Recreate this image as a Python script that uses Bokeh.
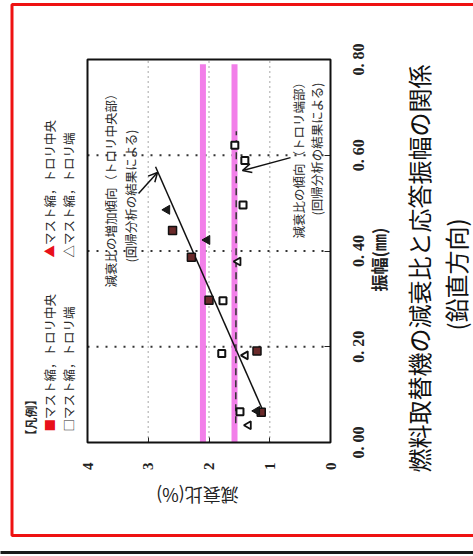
import math
from bokeh.plotting import figure
from bokeh.models import (Range1d, FixedTicker, CustomJSTickFormatter, Label,
                          Arrow, OpenHead, BoxAnnotation, LinearAxis)
from bokeh.core.properties import value
from bokeh.embed import file_html
from bokeh.resources import INLINE

# ---- data: damping ratio (%) vs response amplitude (mm) ----
sq_fill_damp = [2.60, 2.29, 2.00, 1.21, 1.14]
sq_fill_amp = [0.443, 0.387, 0.297, 0.191, 0.063]
tri_fill_damp = [2.69, 2.03, 1.21]
tri_fill_amp = [0.486, 0.423, 0.066]
sq_open_damp = [1.575, 1.41, 1.44, 1.77, 1.79, 1.49]
sq_open_amp = [0.621, 0.589, 0.496, 0.296, 0.186, 0.064]
tri_open_damp = [1.52, 1.40, 1.35]
tri_open_amp = [0.378, 0.182, 0.036]

reg_center_damp = [1.09, 2.88]
reg_center_amp = [0.06, 0.576]
reg_end_damp = [1.56, 1.55]
reg_end_amp = [0.04, 0.65]
limit_damp = [2.10, 1.58]
limit_amp = [0.0, 0.79]

arrow_center = [3.16, 0.520, 2.848, 0.564]
arrow_end = [0.658, 0.595, 1.449, 0.568]

damp_ticks = [0, 1, 2, 3, 4]
amp_ticks = [0.0, 0.2, 0.4, 0.6, 0.8]
amp_tick_labels = ["0. 00", "0. 20", "0. 40", "0. 60", "0. 80"]

# page geometry: the whole canvas is the frame, the chart box sits inside it
W, H = 473, 556
FL, FR, FT, FB = 87, 330, 59, 442
X0, X1 = 4.0, 0.0
Y0, Y1 = 0.0, 0.8


def dx(px):
    return X0 + (px - FL) * (X1 - X0) / (FR - FL)


def dy(py):
    return Y0 + (FB - py) * (Y1 - Y0) / (FB - FT)


p = figure(frame_width=W, frame_height=H,
           x_range=Range1d(dx(0), dx(W)), y_range=Range1d(dy(H), dy(0)),
           x_axis_type=None, y_axis_type=None,
           output_backend="svg", toolbar_location=None,
           min_border=0, min_border_left=0, min_border_right=0,
           min_border_top=0, min_border_bottom=0)
p.background_fill_color = "white"
p.border_fill_color = "white"
p.outline_line_color = None
p.xgrid.visible = False
p.ygrid.visible = False

# damping-ratio axis along the bottom of the chart box
xa = LinearAxis(ticker=FixedTicker(ticks=damp_ticks), fixed_location=Y0, bounds=(0, 4))
xa.major_label_orientation = math.pi / 2
xa.major_tick_in = 5
xa.major_tick_out = 0
xa.major_tick_line_color = "#222222"
xa.minor_tick_line_color = None
xa.axis_line_color = None
xa.major_label_standoff = 20
xa.major_label_text_font = "Liberation Serif"
xa.major_label_text_font_style = "bold"
xa.major_label_text_font_size = "15px"
xa.major_label_text_color = "#222222"
p.add_layout(xa, "below")

# amplitude axis along the right of the chart box (ticks; labels drawn centred below)
ya = LinearAxis(ticker=FixedTicker(ticks=amp_ticks), fixed_location=X1, bounds=(0, 0.8))
ya.formatter = CustomJSTickFormatter(code="return '';")
ya.major_tick_in = 6
ya.major_tick_out = 0
ya.major_tick_line_color = "#222222"
ya.minor_tick_line_color = None
ya.axis_line_color = None
p.add_layout(ya, "right")

# centred, upward-reading amplitude tick labels
p.text(x=[dx(358)] * len(amp_ticks), y=amp_ticks, text=amp_tick_labels,
       angle=math.pi / 2, text_align="center", text_baseline="middle",
       text_font=value("Liberation Serif"), text_font_style="bold",
       text_font_size="16px", text_color="#222222")

# dotted grid inside the chart box
inner_d = damp_ticks[1:-1]
inner_a = amp_ticks[1:-1]
p.segment(x0=inner_d, x1=inner_d, y0=[Y0] * len(inner_d), y1=[Y1] * len(inner_d),
          line_color="#8a8a8a", line_dash="1 4", line_width=1.5)
p.segment(x0=[X0] * len(inner_a), x1=[X1] * len(inner_a), y0=inner_a, y1=inner_a,
          line_color="#333333", line_dash="2 7", line_width=2)

# magenta reference bands
for d in limit_damp:
    p.line([d, d], limit_amp, line_color="#f27fe9", line_width=6)

# regression lines
p.line(reg_center_damp, reg_center_amp, line_color="#111111", line_width=1.5)
p.line(reg_end_damp, reg_end_amp, line_color="#333333", line_width=1.5, line_dash="7 5")

# points
p.scatter(sq_open_damp, sq_open_amp, marker="square", size=7, fill_color="white",
          line_color="#111111", line_width=2)
p.scatter(tri_open_damp, tri_open_amp, marker="triangle", size=8, angle=math.pi / 2,
          fill_color="white", line_color="#111111", line_width=1.8)
p.scatter(sq_fill_damp, sq_fill_amp, marker="square", size=8, fill_color="#6a2a2a",
          line_color="#111111", line_width=1.5)
p.scatter(tri_fill_damp, tri_fill_amp, marker="triangle", size=9, angle=math.pi / 2,
          fill_color="#1a1a1a", line_color="#111111", line_width=1)

# chart box outline
p.add_layout(BoxAnnotation(left=X0, right=X1, bottom=Y0, top=Y1, fill_alpha=0,
                           line_color="#111111", line_alpha=1, line_width=2))

# arrows
for a in (arrow_center, arrow_end):
    p.add_layout(Arrow(end=OpenHead(size=9, line_width=1.5, line_color="#111111"),
                       x_start=a[0], y_start=a[1], x_end=a[2], y_end=a[3],
                       line_width=1.5, line_color="#111111"))

JP = "Noto Sans CJK JP"


def lab(px, py, text, size, angle=math.pi / 2, align="left", color="#2a2a2a",
        font=JP, style="normal"):
    p.add_layout(Label(x=dx(px), y=dy(py), text=text, angle=angle, text_align=align,
                       text_baseline="middle", text_font_size=f"{size}px",
                       text_color=color, text_font=font, text_font_style=style))


# legend
lab(30, 441, "【凡例】", 12, style="bold")
lab(49, 431, "■", 12.5, color="#e8101a")
lab(49, 418.5, "マスト縮，トロリ中央", 12.5)
lab(49, 257, "▲", 12.5, color="#e8101a")
lab(49, 244.5, "マスト縮，トロリ中央", 12.5)
lab(68, 431, "□マスト縮，トロリ端", 12.5)
lab(68, 257, "△マスト縮，トロリ端", 12.5)

# annotations
lab(110, 287, "減衰比の増加傾向（トロリ中央部）", 12.5)
lab(130, 262, "(回帰分析の結果による)", 12.5)
lab(298, 238, "減衰比の傾向（トロリ端部）", 12.5)
lab(316, 215, "(回帰分析の結果による)", 12.5)

# axis titles
lab(378, 259, "振幅(㎜)", 17, align="center", color="#222222", style="bold")
lab(197, 495, "減衰比(%)", 18, angle=math.pi, align="center", color="#222222")

# chart title
lab(418, 268, "燃料取替機の減衰比と応答振幅の関係", 24, align="center", color="#111111")
lab(455, 274, "(鉛直方向)", 24, align="center", color="#111111")

# red frame and bottom rule
p.add_layout(BoxAnnotation(left=dx(11.5), right=dx(495), top=dy(4), bottom=dy(535),
                           fill_alpha=0, line_color="#ee1111", line_alpha=1, line_width=3))
p.add_layout(BoxAnnotation(left=dx(-5), right=dx(480), top=dy(550.5), bottom=dy(553.5),
                           fill_color="#1a1a1a", fill_alpha=1, line_color=None))

open("out.html", "w").write(file_html(p, INLINE))
